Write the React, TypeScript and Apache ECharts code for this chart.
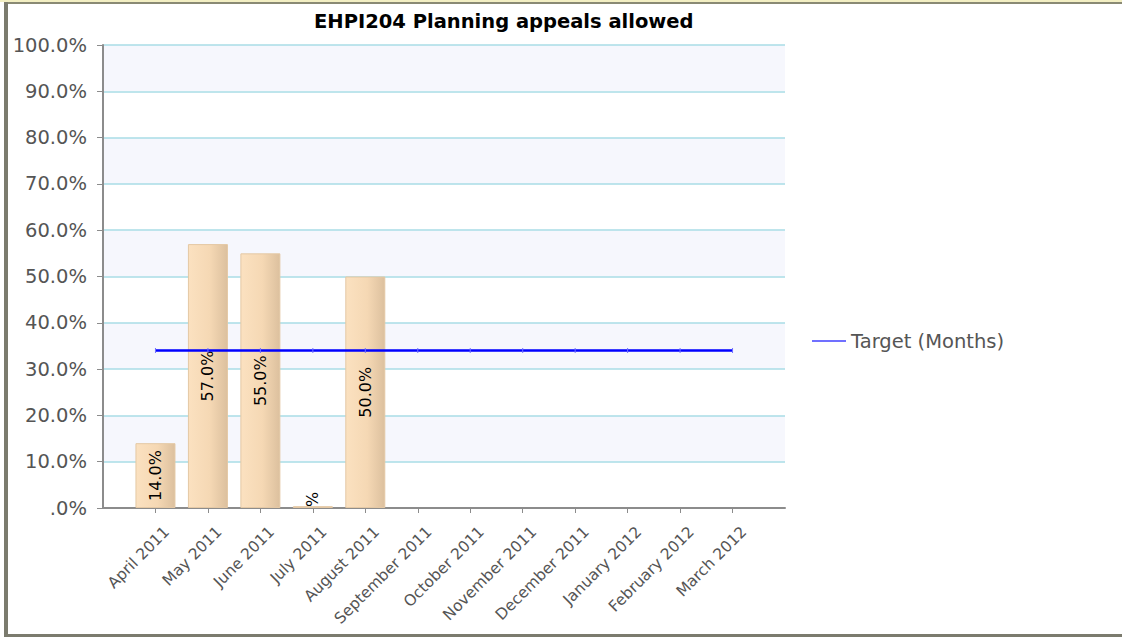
import React, { useEffect, useRef } from "react";
import * as echarts from "echarts";

const chartTitle = "EHPI204 Planning appeals allowed";
const months = [
  "April 2011", "May 2011", "June 2011", "July 2011", "August 2011", "September 2011",
  "October 2011", "November 2011", "December 2011", "January 2012", "February 2012", "March 2012",
];
const actualValues: (number | null)[] = [14, 57, 55, 0.4, 50, null, null, null, null, null, null, null];
const targetValues: number[] = [34, 34, 34, 34, 34, 34, 34, 34, 34, 34, 34, 34];
const targetName = "Target (Months)";

const FONT = "DejaVu Sans, Verdana, sans-serif";

function fmtPct(v: number): string {
  const s = v.toFixed(1);
  return (s.startsWith("0.") ? s.slice(1) : s) + "%";
}

export default function App() {
  const ref = useRef<HTMLDivElement>(null);

  useEffect(() => {
    if (!ref.current) return;
    const chart = echarts.init(ref.current, null, { renderer: "svg" });

    // padded category axis: blank slot at each end
    const cats = ["", ...months, ""];
    const barData = [null, ...actualValues, null];
    const lineData = [null, ...targetValues, null];
    const labelData = actualValues
      .map((v, i) => (v == null ? null : [i + 1, v]))
      .filter((d) => d != null);

    chart.setOption({
      animation: false,
      backgroundColor: "transparent",
      title: {
        text: chartTitle,
        left: 309,
        top: 6,
        textStyle: { fontFamily: FONT, fontWeight: "bold", fontSize: 19.5, color: "#000" },
      },
      legend: {
        data: [targetName],
        left: 807,
        top: 326,
        orient: "vertical",
        icon: "rect",
        itemWidth: 34,
        itemHeight: 2,
        itemGap: 6,
        textStyle: { fontFamily: FONT, fontSize: 19.5, color: "#555" },
      },
      grid: { left: 103, top: 45, right: 337, bottom: 129, containLabel: false },
      xAxis: {
        type: "category",
        data: cats,
        boundaryGap: false,
        axisLine: { lineStyle: { color: "#8c8c8c", width: 2 } },
        axisTick: {
          length: 5,
          lineStyle: { color: "#8c8c8c" },
          interval: (i: number) => i > 0 && i < cats.length - 1,
        },
        axisLabel: {
          rotate: 45,
          interval: 0,
          margin: 10,
          verticalAlign: "top",
          padding: [8, 0, 0, 0],
          fontFamily: FONT,
          fontSize: 15.5,
          color: "#555",
        },
        splitLine: { show: false },
      },
      yAxis: {
        type: "value",
        min: 0,
        max: 100,
        interval: 10,
        axisLine: { show: true, lineStyle: { color: "#8c8c8c", width: 2 } },
        axisTick: { show: true, length: 6, lineStyle: { color: "#8c8c8c" } },
        axisLabel: {
          margin: 16,
          fontFamily: FONT,
          fontSize: 19.5,
          color: "#555",
          formatter: (v: number) => fmtPct(v),
        },
        splitLine: { lineStyle: { color: "#a9dde6", width: 1.5 } },
        splitArea: { show: true, areaStyle: { color: ["#ffffff", "#f6f7fd"] } },
      },
      series: [
        {
          name: "Actual",
          type: "bar",
          data: barData,
          barWidth: 40,
          itemStyle: {
            color: new echarts.graphic.LinearGradient(0, 0, 1, 0, [
              { offset: 0, color: "#fbe1c0" },
              { offset: 0.55, color: "#f5d8b4" },
              { offset: 1, color: "#dcc09e" },
            ]),
            borderColor: "#e4c8a4",
            borderWidth: 1,
          },
          z: 2,
        },
        {
          name: "labels",
          type: "custom",
          clip: true,
          data: labelData,
          z: 4,
          renderItem: (_params: any, api: any) => {
            const idx = api.value(0);
            const val = api.value(1);
            const p = api.coord([idx, val / 2]);
            return {
              type: "text",
              x: p[0],
              y: p[1],
              rotation: Math.PI / 2,
              style: {
                text: fmtPct(val),
                fill: "#000",
                font: `16px ${FONT}`,
                align: "center",
                verticalAlign: "middle",
              },
            };
          },
        },
        {
          name: targetName,
          type: "line",
          data: lineData,
          color: "#0000ff",
          lineStyle: { color: "#0000ff", width: 2.5 },
          symbol: "rect",
          symbolSize: [1, 5],
          showSymbol: true,
          itemStyle: { color: "#7070ff" },
          z: 5,
        },
      ],
    });

    return () => chart.dispose();
  }, []);

  return (
    <div style={{ position: "fixed", left: 0, top: 0, width: 1122, height: 637, background: "#fff" }}>
      <div ref={ref} style={{ position: "absolute", left: 0, top: 0, width: 1122, height: 637 }} />
      <div style={{ position: "absolute", left: 0, top: 0, width: 1122, height: 2, background: "#f3efc3", pointerEvents: "none" }} />
      <div style={{ position: "absolute", left: 4, top: 2, width: 1118, height: 2, background: "#8a8a74", pointerEvents: "none" }} />
      <div style={{ position: "absolute", left: 4, top: 2, width: 4, height: 635, background: "#7b7b6e", pointerEvents: "none" }} />
      <div style={{ position: "absolute", left: 4, top: 634, width: 1118, height: 3, background: "#7b7b6e", pointerEvents: "none" }} />
    </div>
  );
}
